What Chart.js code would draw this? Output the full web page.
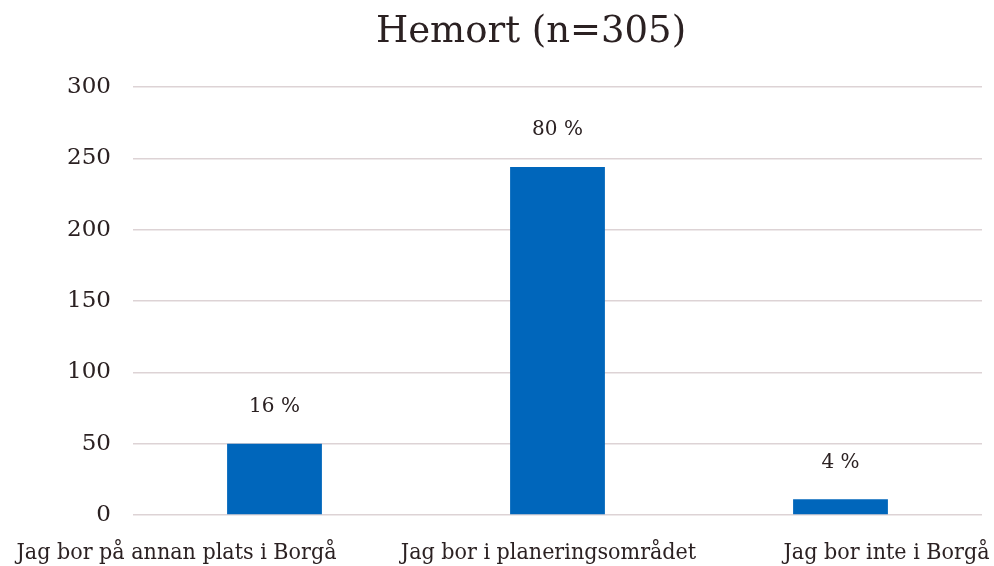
<!DOCTYPE html>
<html>
<head>
<meta charset="utf-8">
<script src="https://cdn.jsdelivr.net/npm/chart.js"></script>
<style>
  body { margin: 0; background: #fff; }
  #wrap { width: 994px; height: 566px; }
</style>
</head>
<body>
<div id="wrap"><canvas id="Hemort" width="994" height="566"></canvas></div>
<script>
const categories = [
  'Jag bor på annan plats i Borgå',
  'Jag bor i planeringsområdet',
  'Jag bor inte i Borgå'
];
const counts = [50, 244, 11];
const pctLabels = ['16 %', '80 %', '4 %'];
const yTicks = [0, 50, 100, 150, 200, 250, 300];

const TEXT = '#2b2122';
const BLUE = '#0066bb';
const GRID = '#ddd3d5';
const SERIF = '"DejaVu Serif", serif';
const LABEL_SERIF = '"DejaVu Serif Condensed", "Liberation Serif", serif';

// Excel-style nudges for the category labels, so they stay inside the canvas
const labelShift = [-98, -9, 46];

const labelsPlugin = {
  id: 'labels',
  afterDatasetsDraw(chart) {
    const ctx = chart.ctx;
    const meta = chart.getDatasetMeta(0);
    const x = chart.scales.x;
    ctx.save();
    ctx.fillStyle = TEXT;
    ctx.textAlign = 'center';
    ctx.textBaseline = 'middle';

    // value labels above bars
    ctx.font = '20px ' + SERIF;
    meta.data.forEach((bar, i) => {
      ctx.fillText(pctLabels[i], bar.x, bar.y - 37);
    });

    // category labels
    ctx.font = '23px ' + LABEL_SERIF;
    categories.forEach((c, i) => {
      ctx.fillText(c, x.getPixelForValue(i) + labelShift[i], 553);
    });

    // title
    ctx.font = '37px ' + SERIF;
    ctx.fillText('Hemort (n=305)', 531, 32);
    ctx.restore();
  }
};

new Chart(document.getElementById('Hemort'), {
  type: 'bar',
  data: {
    labels: categories,
    datasets: [{
      data: counts,
      backgroundColor: BLUE,
      categoryPercentage: 1,
      barPercentage: 0.335
    }]
  },
  options: {
    responsive: false,
    animation: false,
    layout: { padding: { top: 87, bottom: 51, left: 0, right: 12 } },
    plugins: {
      legend: { display: false },
      tooltip: { enabled: false },
      title: { display: false }
    },
    scales: {
      x: { display: false },
      y: {
        min: 0,
        max: 300,
        afterBuildTicks(scale) { scale.ticks = yTicks.map(v => ({ value: v })); },
        afterFit(scale) { scale.width = 133; },
        border: { display: false },
        grid: { color: GRID, lineWidth: 1.5, drawTicks: false },
        ticks: {
          padding: 22,
          color: TEXT,
          font: { family: SERIF, size: 23 }
        }
      }
    }
  },
  plugins: [labelsPlugin]
});
</script>
</body>
</html>
